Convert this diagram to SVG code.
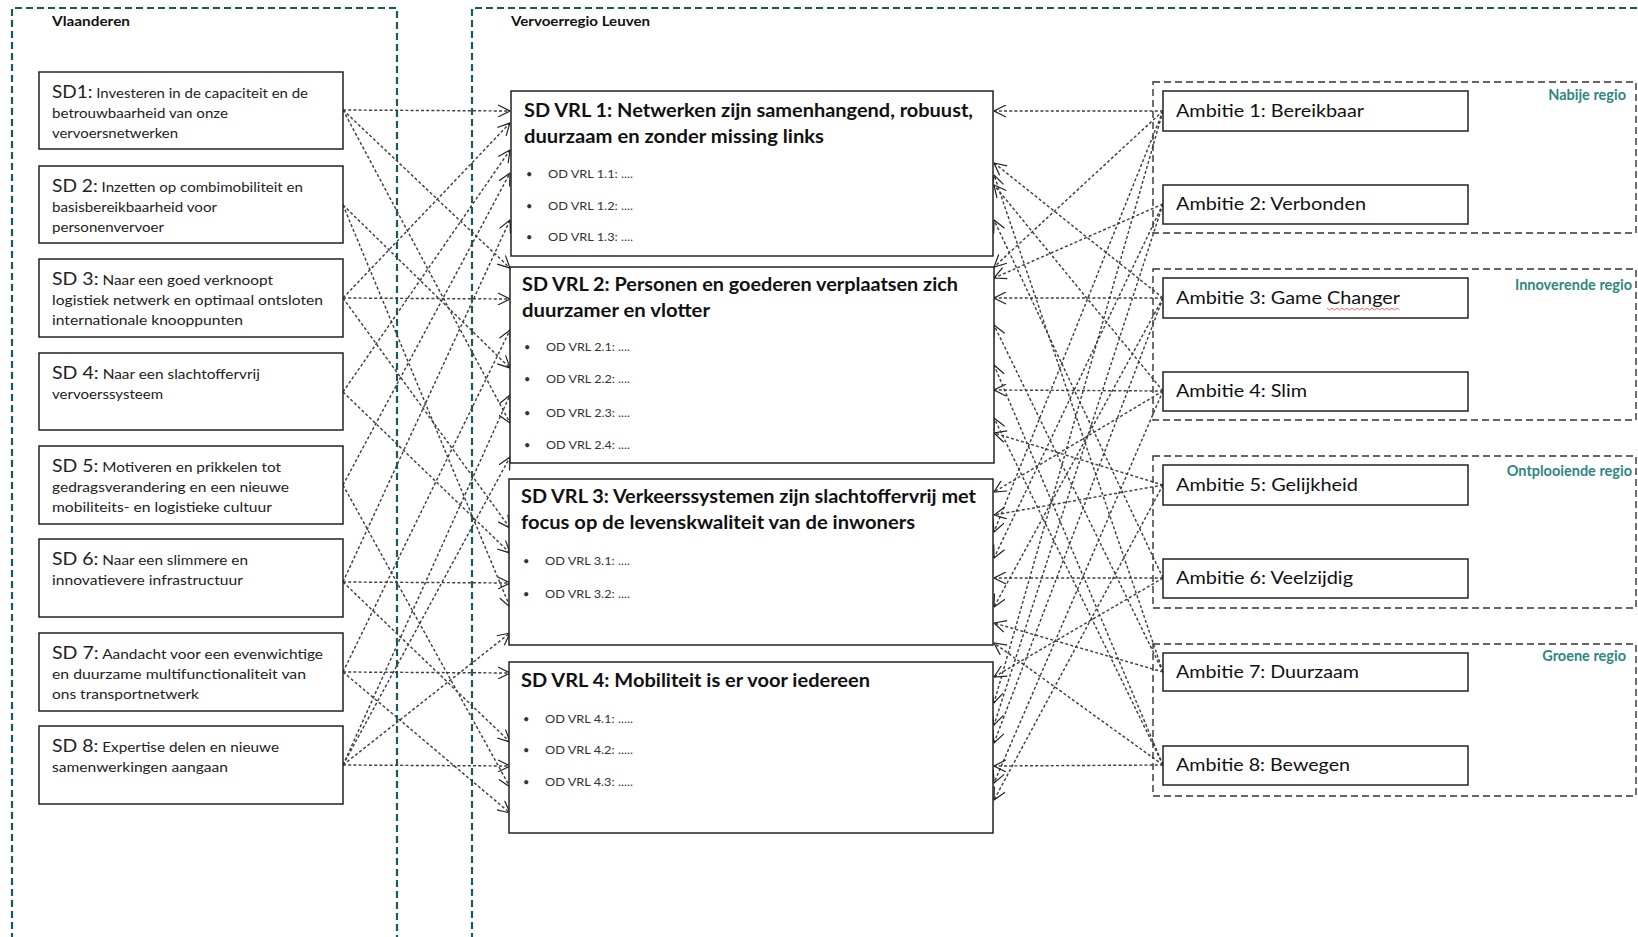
<svg xmlns="http://www.w3.org/2000/svg" width="1638" height="937" viewBox="0 0 1638 937">
<style>
.bg{fill:#ffffff}
.zone{fill:none;stroke:#155c5a;stroke-width:2.2;stroke-dasharray:7 4}
.region{fill:none;stroke:#333;stroke-width:1.4;stroke-dasharray:7 4}
.box{fill:#fff;stroke:#222;stroke-width:1.5}
.t{font-family:Lato,"Open Sans","Liberation Sans",sans-serif;fill:#222}
.sd{font-size:13px}
.sdh{font-size:16.5px}
.zl{font-family:Lato,"Liberation Sans",sans-serif;font-weight:bold;font-size:14px;fill:#111}
.rl{font-family:Lato,"Liberation Sans",sans-serif;font-weight:bold;font-size:14.5px;fill:#2e8783}
.vt{font-family:Lato,"Liberation Sans",sans-serif;font-weight:bold;font-size:18px;fill:#111}
.od{font-family:Lato,"Liberation Sans",sans-serif;font-size:11px;fill:#333}
.am{font-family:Lato,"Liberation Sans",sans-serif;font-size:17px;fill:#111}
.c line{stroke:#404040;stroke-width:1.45;stroke-dasharray:3 2.2;marker-end:url(#arr)}
</style>
<defs>
<marker id="arr" viewBox="0 0 13 13" refX="12.5" refY="6.5" markerWidth="13" markerHeight="13" markerUnits="userSpaceOnUse" orient="auto">
<path d="M0.5,0.5 L12.5,6.5 L0.5,12.5" fill="none" stroke="#222" stroke-width="1.2"/>
</marker>
</defs>
<rect class="bg" x="0" y="0" width="1638" height="937"/>

<g id="zone-vlaanderen">
<path class="zone" d="M12,940 V8 H397 V940"/>
<text class="zl" x="52" y="26" textLength="78" lengthAdjust="spacingAndGlyphs">Vlaanderen</text>
</g>
<g id="zone-leuven">
<path class="zone" d="M472,940 V8 H1645"/>
<text class="zl" x="511" y="26" textLength="139" lengthAdjust="spacingAndGlyphs">Vervoerregio Leuven</text>
</g>

<g id="region-nabije">
<rect class="region" x="1153" y="82" width="483" height="151"/>
<text class="rl" x="1626" y="100" text-anchor="end">Nabije regio</text>
</g>
<g id="region-innoverende">
<rect class="region" x="1153" y="269" width="483" height="151"/>
<text class="rl" x="1632" y="290" text-anchor="end">Innoverende regio</text>
</g>
<g id="region-ontplooiende">
<rect class="region" x="1153" y="456" width="483" height="152"/>
<text class="rl" x="1632" y="476" text-anchor="end">Ontplooiende regio</text>
</g>
<g id="region-groene">
<rect class="region" x="1153" y="644" width="483" height="152"/>
<text class="rl" x="1626" y="661" text-anchor="end">Groene regio</text>
</g>

<g class="c" id="connectors">
<line x1="343" y1="110" x2="510" y2="111"/>
<line x1="343" y1="110" x2="510" y2="268"/>
<line x1="343" y1="110" x2="510" y2="423"/>
<line x1="343" y1="205" x2="510" y2="368"/>
<line x1="343" y1="205" x2="510" y2="607"/>
<line x1="343" y1="298" x2="510" y2="123"/>
<line x1="343" y1="298" x2="510" y2="299"/>
<line x1="343" y1="298" x2="510" y2="528"/>
<line x1="343" y1="392" x2="510" y2="150"/>
<line x1="343" y1="392" x2="510" y2="553"/>
<line x1="343" y1="485" x2="510" y2="173"/>
<line x1="343" y1="485" x2="510" y2="787"/>
<line x1="343" y1="582" x2="510" y2="220"/>
<line x1="343" y1="582" x2="510" y2="583"/>
<line x1="343" y1="582" x2="510" y2="742"/>
<line x1="343" y1="672" x2="510" y2="330"/>
<line x1="343" y1="672" x2="510" y2="673"/>
<line x1="343" y1="672" x2="510" y2="813"/>
<line x1="343" y1="765" x2="510" y2="395"/>
<line x1="343" y1="765" x2="510" y2="457"/>
<line x1="343" y1="765" x2="510" y2="633"/>
<line x1="343" y1="765" x2="510" y2="766"/>
<line x1="1163" y1="111" x2="994" y2="111"/>
<line x1="1163" y1="111" x2="994" y2="267"/>
<line x1="1163" y1="111" x2="994" y2="532"/>
<line x1="1163" y1="111" x2="994" y2="703"/>
<line x1="1163" y1="204" x2="994" y2="278"/>
<line x1="1163" y1="204" x2="994" y2="558"/>
<line x1="1163" y1="204" x2="994" y2="725"/>
<line x1="1163" y1="298" x2="994" y2="163"/>
<line x1="1163" y1="298" x2="994" y2="298"/>
<line x1="1163" y1="298" x2="994" y2="607"/>
<line x1="1163" y1="298" x2="994" y2="743"/>
<line x1="1163" y1="391" x2="994" y2="185"/>
<line x1="1163" y1="391" x2="994" y2="390"/>
<line x1="1163" y1="391" x2="994" y2="492"/>
<line x1="1163" y1="391" x2="994" y2="783"/>
<line x1="1163" y1="485" x2="994" y2="433"/>
<line x1="1163" y1="485" x2="994" y2="515"/>
<line x1="1163" y1="485" x2="994" y2="800"/>
<line x1="1163" y1="578" x2="994" y2="220"/>
<line x1="1163" y1="578" x2="994" y2="578"/>
<line x1="1163" y1="578" x2="994" y2="677"/>
<line x1="1163" y1="672" x2="994" y2="175"/>
<line x1="1163" y1="672" x2="994" y2="325"/>
<line x1="1163" y1="672" x2="994" y2="623"/>
<line x1="1163" y1="765" x2="994" y2="365"/>
<line x1="1163" y1="765" x2="994" y2="418"/>
<line x1="1163" y1="765" x2="994" y2="643"/>
<line x1="1163" y1="765" x2="994" y2="766"/>
</g>

<g id="sd1">
<rect class="box" x="39" y="72" width="304" height="77"/>
<text class="t sd" x="52" y="98" textLength="256" lengthAdjust="spacingAndGlyphs"><tspan class="sdh">SD1:</tspan> Investeren in de capaciteit en de</text>
<text class="t sd" x="52" y="118" textLength="176" lengthAdjust="spacingAndGlyphs">betrouwbaarheid van onze</text>
<text class="t sd" x="52" y="138" textLength="126" lengthAdjust="spacingAndGlyphs">vervoersnetwerken</text>
</g>
<g id="sd2">
<rect class="box" x="39" y="166" width="304" height="77"/>
<text class="t sd" x="52" y="192" textLength="251" lengthAdjust="spacingAndGlyphs"><tspan class="sdh">SD 2:</tspan> Inzetten op combimobiliteit en</text>
<text class="t sd" x="52" y="212" textLength="165" lengthAdjust="spacingAndGlyphs">basisbereikbaarheid voor</text>
<text class="t sd" x="52" y="232" textLength="112" lengthAdjust="spacingAndGlyphs">personenvervoer</text>
</g>
<g id="sd3">
<rect class="box" x="39" y="259" width="304" height="78"/>
<text class="t sd" x="52" y="285" textLength="221" lengthAdjust="spacingAndGlyphs"><tspan class="sdh">SD 3:</tspan> Naar een goed verknoopt</text>
<text class="t sd" x="52" y="305" textLength="271" lengthAdjust="spacingAndGlyphs">logistiek netwerk en optimaal ontsloten</text>
<text class="t sd" x="52" y="325" textLength="191" lengthAdjust="spacingAndGlyphs">internationale knooppunten</text>
</g>
<g id="sd4">
<rect class="box" x="39" y="353" width="304" height="77"/>
<text class="t sd" x="52" y="379" textLength="208" lengthAdjust="spacingAndGlyphs"><tspan class="sdh">SD 4:</tspan> Naar een slachtoffervrij</text>
<text class="t sd" x="52" y="399" textLength="111" lengthAdjust="spacingAndGlyphs">vervoerssysteem</text>
</g>
<g id="sd5">
<rect class="box" x="39" y="446" width="304" height="78"/>
<text class="t sd" x="52" y="472" textLength="229" lengthAdjust="spacingAndGlyphs"><tspan class="sdh">SD 5:</tspan> Motiveren en prikkelen tot</text>
<text class="t sd" x="52" y="492" textLength="237" lengthAdjust="spacingAndGlyphs">gedragsverandering en een nieuwe</text>
<text class="t sd" x="52" y="512" textLength="220" lengthAdjust="spacingAndGlyphs">mobiliteits- en logistieke cultuur</text>
</g>
<g id="sd6">
<rect class="box" x="39" y="539" width="304" height="78"/>
<text class="t sd" x="52" y="565" textLength="196" lengthAdjust="spacingAndGlyphs"><tspan class="sdh">SD 6:</tspan> Naar een slimmere en</text>
<text class="t sd" x="52" y="585" textLength="191" lengthAdjust="spacingAndGlyphs">innovatievere infrastructuur</text>
</g>
<g id="sd7">
<rect class="box" x="39" y="633" width="304" height="78"/>
<text class="t sd" x="52" y="659" textLength="271" lengthAdjust="spacingAndGlyphs"><tspan class="sdh">SD 7:</tspan> Aandacht voor een evenwichtige</text>
<text class="t sd" x="52" y="679" textLength="254" lengthAdjust="spacingAndGlyphs">en duurzame multifunctionaliteit van</text>
<text class="t sd" x="52" y="699" textLength="147" lengthAdjust="spacingAndGlyphs">ons transportnetwerk</text>
</g>
<g id="sd8">
<rect class="box" x="39" y="726" width="304" height="78"/>
<text class="t sd" x="52" y="752" textLength="227" lengthAdjust="spacingAndGlyphs"><tspan class="sdh">SD 8:</tspan> Expertise delen en nieuwe</text>
<text class="t sd" x="52" y="772" textLength="176" lengthAdjust="spacingAndGlyphs">samenwerkingen aangaan</text>
</g>

<g id="vrl1">
<rect class="box" x="511" y="91" width="482" height="165"/>
<text class="vt" x="524" y="117" textLength="449" lengthAdjust="spacingAndGlyphs">SD VRL 1: Netwerken zijn samenhangend, robuust,</text>
<text class="vt" x="524" y="143" textLength="300" lengthAdjust="spacingAndGlyphs">duurzaam en zonder missing links</text>
<text class="od" x="526" y="178">•</text><text class="od" x="548" y="178" textLength="85" lengthAdjust="spacingAndGlyphs">OD VRL 1.1: ....</text>
<text class="od" x="526" y="210">•</text><text class="od" x="548" y="210" textLength="85" lengthAdjust="spacingAndGlyphs">OD VRL 1.2: ....</text>
<text class="od" x="526" y="241">•</text><text class="od" x="548" y="241" textLength="85" lengthAdjust="spacingAndGlyphs">OD VRL 1.3: ....</text>
</g>
<g id="vrl2">
<rect class="box" x="510" y="267" width="484" height="196"/>
<text class="vt" x="522" y="291" textLength="436" lengthAdjust="spacingAndGlyphs">SD VRL 2: Personen en goederen verplaatsen zich</text>
<text class="vt" x="522" y="317" textLength="188" lengthAdjust="spacingAndGlyphs">duurzamer en vlotter</text>
<text class="od" x="524" y="351">•</text><text class="od" x="546" y="351" textLength="84" lengthAdjust="spacingAndGlyphs">OD VRL 2.1: ....</text>
<text class="od" x="524" y="383">•</text><text class="od" x="546" y="383" textLength="84" lengthAdjust="spacingAndGlyphs">OD VRL 2.2: ....</text>
<text class="od" x="524" y="417">•</text><text class="od" x="546" y="417" textLength="84" lengthAdjust="spacingAndGlyphs">OD VRL 2.3: ....</text>
<text class="od" x="524" y="449">•</text><text class="od" x="546" y="449" textLength="84" lengthAdjust="spacingAndGlyphs">OD VRL 2.4: ....</text>
</g>
<g id="vrl3">
<rect class="box" x="509" y="479" width="484" height="166"/>
<text class="vt" x="521" y="503" textLength="455" lengthAdjust="spacingAndGlyphs">SD VRL 3: Verkeerssystemen zijn slachtoffervrij met</text>
<text class="vt" x="521" y="529" textLength="394" lengthAdjust="spacingAndGlyphs">focus op de levenskwaliteit van de inwoners</text>
<text class="od" x="523" y="565">•</text><text class="od" x="545" y="565" textLength="85" lengthAdjust="spacingAndGlyphs">OD VRL 3.1: ....</text>
<text class="od" x="523" y="598">•</text><text class="od" x="545" y="598" textLength="85" lengthAdjust="spacingAndGlyphs">OD VRL 3.2: ....</text>
</g>
<g id="vrl4">
<rect class="box" x="509" y="662" width="484" height="171"/>
<text class="vt" x="521" y="687" textLength="349" lengthAdjust="spacingAndGlyphs">SD VRL 4: Mobiliteit is er voor iedereen</text>
<text class="od" x="523" y="723">•</text><text class="od" x="545" y="723" textLength="88" lengthAdjust="spacingAndGlyphs">OD VRL 4.1: .....</text>
<text class="od" x="523" y="754">•</text><text class="od" x="545" y="754" textLength="88" lengthAdjust="spacingAndGlyphs">OD VRL 4.2: .....</text>
<text class="od" x="523" y="786">•</text><text class="od" x="545" y="786" textLength="88" lengthAdjust="spacingAndGlyphs">OD VRL 4.3: .....</text>
</g>

<g id="amb1"><rect class="box" x="1163" y="91" width="305" height="40"/><text class="am" x="1176" y="117" textLength="188" lengthAdjust="spacingAndGlyphs">Ambitie 1: Bereikbaar</text></g>
<g id="amb2"><rect class="box" x="1163" y="185" width="305" height="39"/><text class="am" x="1176" y="210" textLength="190" lengthAdjust="spacingAndGlyphs">Ambitie 2: Verbonden</text></g>
<g id="amb3"><rect class="box" x="1163" y="278" width="305" height="40"/><text class="am" x="1176" y="304" textLength="224" lengthAdjust="spacingAndGlyphs">Ambitie 3: Game Changer</text>
<path d="M1327,308 l2.5,2 l2.5,-2 l2.5,2 l2.5,-2 l2.5,2 l2.5,-2 l2.5,2 l2.5,-2 l2.5,2 l2.5,-2 l2.5,2 l2.5,-2 l2.5,2 l2.5,-2 l2.5,2 l2.5,-2 l2.5,2 l2.5,-2 l2.5,2 l2.5,-2 l2.5,2 l2.5,-2 l2.5,2 l2.5,-2 l2.5,2 l2.5,-2 l2.5,2 l2.5,-2 l2.5,2" fill="none" stroke="#e0403a" stroke-width="0.8"/></g>
<g id="amb4"><rect class="box" x="1163" y="372" width="305" height="39"/><text class="am" x="1176" y="397" textLength="131" lengthAdjust="spacingAndGlyphs">Ambitie 4: Slim</text></g>
<g id="amb5"><rect class="box" x="1163" y="465" width="305" height="40"/><text class="am" x="1176" y="491" textLength="182" lengthAdjust="spacingAndGlyphs">Ambitie 5: Gelijkheid</text></g>
<g id="amb6"><rect class="box" x="1163" y="559" width="305" height="39"/><text class="am" x="1176" y="584" textLength="177" lengthAdjust="spacingAndGlyphs">Ambitie 6: Veelzijdig</text></g>
<g id="amb7"><rect class="box" x="1163" y="653" width="305" height="38"/><text class="am" x="1176" y="678" textLength="183" lengthAdjust="spacingAndGlyphs">Ambitie 7: Duurzaam</text></g>
<g id="amb8"><rect class="box" x="1163" y="746" width="305" height="39"/><text class="am" x="1176" y="771" textLength="174" lengthAdjust="spacingAndGlyphs">Ambitie 8: Bewegen</text></g>
</svg>
